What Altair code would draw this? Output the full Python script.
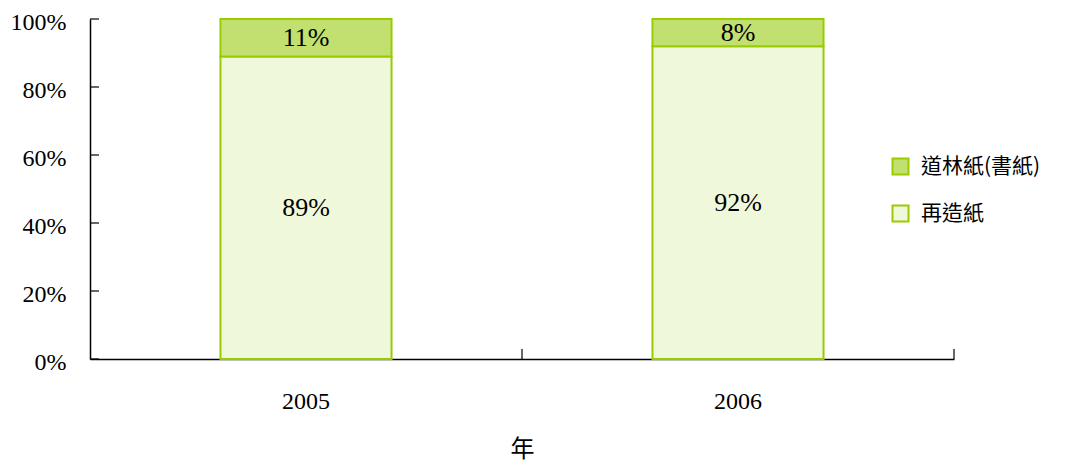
import altair as alt
import pandas as pd

years = ["2005", "2006"]
series = ["道林紙(書紙)", "再造紙"]
share_woodfree = [0.11, 0.08]
share_recycled = [0.89, 0.92]
y_ticks = [0, 0.2, 0.4, 0.6, 0.8, 1.0]

rows = []
for i, yr in enumerate(years):
    rows.append({"year": yr, "kind": "再造紙", "ord": 0, "value": share_recycled[i]})
    rows.append({"year": yr, "kind": "道林紙(書紙)", "ord": 1, "value": share_woodfree[i]})
df = pd.DataFrame(rows)
tick_df = pd.DataFrame({"t": y_ticks})
year_df = pd.DataFrame({"year": years})

W, H = 864, 340
SERIF = "'Liberation Serif', 'Times New Roman', serif"
CJK = "'Noto Sans CJK TC', sans-serif"

xscale = alt.Scale(domain=years, paddingInner=0, paddingOuter=0)
yscale = alt.Scale(domain=[0, 1], nice=False)

xaxis = alt.Axis(title="年", labelAngle=0, ticks=False, labelPadding=30,
                 titlePadding=24, grid=False)
yaxis = alt.Axis(title=None, values=y_ticks, format=".0%", ticks=False,
                 labelPadding=24, labelOffset=3, grid=False)

base = alt.Chart(df).transform_stack(
    stack="value", groupby=["year"], as_=["y0", "y1"], sort=[alt.SortField("ord")]
).transform_calculate(mid="(datum.y0 + datum.y1) / 2")

bars = base.mark_bar(
    width=alt.RelativeBandSize(0.396), stroke="#99cc00", strokeWidth=2
).encode(
    x=alt.X("year:N", scale=xscale, sort=years, axis=xaxis),
    y=alt.Y("y0:Q", scale=yscale, axis=yaxis),
    y2="y1:Q",
    color=alt.Color("kind:N",
                    scale=alt.Scale(domain=series, range=["#c2e070", "#f0f8dc"]),
                    legend=alt.Legend(title=None, orient="none", legendX=800, legendY=137,
                                      symbolType="square", symbolSize=256,
                                      symbolStrokeColor="#99cc00", symbolStrokeWidth=2,
                                      labelFont=CJK, labelFontSize=21, labelColor="#000",
                                      rowPadding=22, labelOffset=10, padding=0)),
    order=alt.Order("ord:Q"),
)

labels = base.mark_text(font=SERIF, fontSize=26, color="#000", baseline="middle").encode(
    x=alt.X("year:N", scale=xscale, sort=years, axis=xaxis),
    y=alt.Y("mid:Q", scale=yscale, axis=yaxis),
    text=alt.Text("value:Q", format=".0%"),
)

yt = alt.Chart(tick_df).mark_rule(color="#000", strokeWidth=1.2).encode(
    y=alt.Y("t:Q", scale=yscale, axis=yaxis),
    x=alt.value(0),
    x2=alt.value(9),
)

xt = alt.Chart(year_df).mark_rule(color="#000", strokeWidth=1.2).encode(
    x=alt.X("year:N", scale=xscale, sort=years, bandPosition=1, axis=xaxis),
    y=alt.value(H),
    y2=alt.value(H - 10),
)

chart = alt.layer(bars, labels, yt, xt).properties(
    width=W, height=H,
    autosize=alt.AutoSizeParams(type="none"),
    padding={"left": 82, "top": 11, "right": 100, "bottom": 112},
).configure_view(stroke=None).configure_axis(
    labelFont=SERIF, labelFontSize=24, labelColor="#000",
    titleFont=CJK, titleFontSize=24, titleFontWeight="normal", titleColor="#000",
    domainColor="#000", domainWidth=1.5,
)

chart.save("out.html", embed_options={"renderer": "svg", "actions": False})
